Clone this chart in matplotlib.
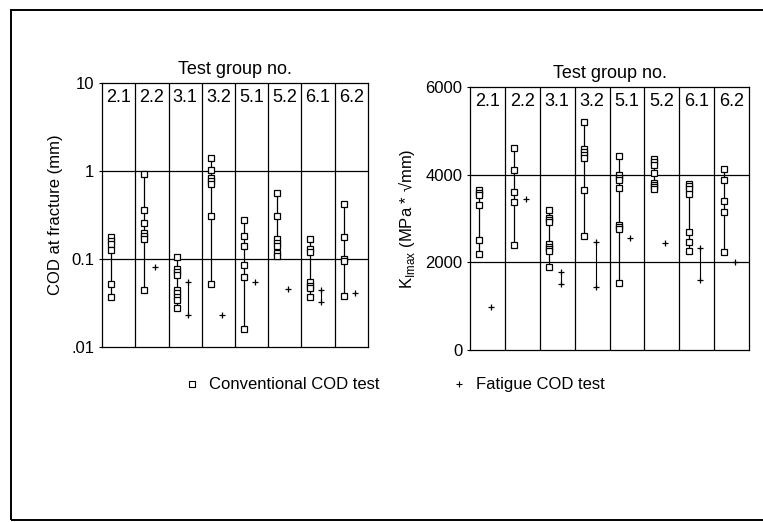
import matplotlib
matplotlib.use("Agg")
import matplotlib.pyplot as plt
from matplotlib.lines import Line2D
from matplotlib.patches import Rectangle
import matplotlib.transforms as mtransforms

plt.rcParams['font.family'] = ['Liberation Sans', 'DejaVu Sans']
plt.rcParams['mathtext.fontset'] = 'custom'
plt.rcParams['mathtext.rm'] = 'Liberation Sans'

# --- data ---
groups = ['2.1', '2.2', '3.1', '3.2', '5.1', '5.2', '6.1', '6.2']

# COD at fracture (mm), conventional test
cod_conv = [
    [0.176, 0.161, 0.148, 0.126, 0.052, 0.0375],
    [0.917, 0.359, 0.26, 0.20, 0.184, 0.168, 0.045],
    [0.106, 0.077, 0.071, 0.065, 0.0446, 0.041, 0.0375, 0.0338, 0.0277],
    [1.42, 1.03, 0.84, 0.77, 0.706, 0.31, 0.052],
    [0.276, 0.184, 0.1415, 0.0855, 0.062, 0.0161],
    [0.559, 0.31, 0.168, 0.154, 0.1415, 0.116, 0.108],
    [0.171, 0.13, 0.119, 0.0544, 0.0499, 0.0466, 0.0375],
    [0.42, 0.18, 0.1, 0.094, 0.0385],
]
# COD at fracture (mm), fatigue test
cod_fat = [
    [],
    [0.0805],
    [0.0545, 0.0232],
    [0.0232],
    [0.0544],
    [0.0457],
    [0.0446, 0.0329],
    [0.0408],
]

# K_Imax (MPa*sqrt(mm)), conventional test
k_conv = [
    [3656, 3587, 3526, 3297, 2519, 2191],
    [4617, 4098, 3602, 3373, 2397],
    [3183, 3007, 2954, 2916, 2420, 2359, 2305, 2252, 1886],
    [5189, 4579, 4518, 4457, 4388, 3640, 2595],
    [4426, 3984, 3923, 3869, 3694, 2862, 2801, 2763, 1519],
    [4365, 4289, 4213, 4045, 3808, 3755, 3717, 3663],
    [3793, 3732, 3679, 3549, 2687, 2458, 2252],
    [4136, 3869, 3396, 3145, 2229],
]
# K_Imax, fatigue test
k_fat = [
    [970],
    [3434],
    [1786, 1504],
    [2473, 1428],
    [2549],
    [2435],
    [2328, 1603],
    [2015],
]

CONV_OFF = 0.27   # position of conventional series inside each column
FAT_OFF = 0.6     # position of fatigue series


def draw_panel(ax, conv, fat):
    for i, vals in enumerate(conv):
        x = i + CONV_OFF
        ax.plot([x, x], [min(vals), max(vals)], color='black', lw=0.9, zorder=2)
        ax.plot([x] * len(vals), vals, ls='none', marker='s', ms=3.8,
                mfc='white', mec='black', mew=0.9, zorder=3)
    for i, vals in enumerate(fat):
        if not vals:
            continue
        x = i + FAT_OFF
        if len(vals) > 1:
            ax.plot([x, x], [min(vals), max(vals)], color='black', lw=0.8, zorder=2)
        ax.plot([x] * len(vals), vals, ls='none', marker='+', ms=4,
                color='black', mew=0.9, zorder=3)

    ax.set_xlim(0, len(groups))
    ax.set_xticks([])
    for k in range(1, len(groups)):
        ax.axvline(k, color='black', lw=0.9, zorder=1)
    trans = mtransforms.blended_transform_factory(ax.transData, ax.transAxes)
    for i, g in enumerate(groups):
        ax.text(i + 0.5, 0.945, g, transform=trans, ha='center', va='center',
                fontsize=13)
    ax.text(0.5, 1.05, 'Test group no.', transform=ax.transAxes,
            ha='center', va='center', fontsize=13)
    for sp in ax.spines.values():
        sp.set_linewidth(0.9)
    ax.tick_params(axis='y', length=2, labelsize=12, width=0.8)


fig = plt.figure(figsize=(7.63, 5.22), dpi=100)

# outer frame of the scanned figure
fig.patches.append(Rectangle((0.015, 0.004), 1.2, 0.976, transform=fig.transFigure,
                             fill=False, edgecolor='black', lw=1.4))

ax1 = fig.add_axes([0.1337, 0.3352, 0.3486, 0.5057])
ax1.set_yscale('log')
ax1.set_ylim(0.01, 10)
draw_panel(ax1, cod_conv, cod_fat)
ax1.set_yticks([0.01, 0.1, 1, 10])
ax1.set_yticklabels(['.01', '0.1', '1', '10'])
ax1.yaxis.set_minor_locator(matplotlib.ticker.NullLocator())
for yv in (0.1, 1):
    ax1.axhline(yv, color='black', lw=0.9, zorder=1)
ax1.set_ylabel('COD at fracture (mm)', fontsize=12, labelpad=6)

ax2 = fig.add_axes([0.616, 0.3295, 0.3657, 0.504])
ax2.set_ylim(0, 6000)
draw_panel(ax2, k_conv, k_fat)
ax2.set_yticks([0, 2000, 4000, 6000])
for yv in (2000, 4000):
    ax2.axhline(yv, color='black', lw=0.9, zorder=1)
ax2.set_ylabel(r'K$_{\mathregular{Imax}}$ (MPa * √mm)', fontsize=12, labelpad=6)

handles = [
    Line2D([], [], ls='none', marker='s', ms=4, mfc='white', mec='black', mew=0.8),
    Line2D([], [], ls='none', marker='+', ms=4, color='black', mew=0.8),
]
fig.legend(handles, ['Conventional COD test', 'Fatigue COD test'],
           loc='center', bbox_to_anchor=(0.518, 0.2625), ncol=2, frameon=False,
           fontsize=12, handlelength=0.8, handletextpad=0.6, columnspacing=4.4)

fig.savefig('out.png', dpi=100)
